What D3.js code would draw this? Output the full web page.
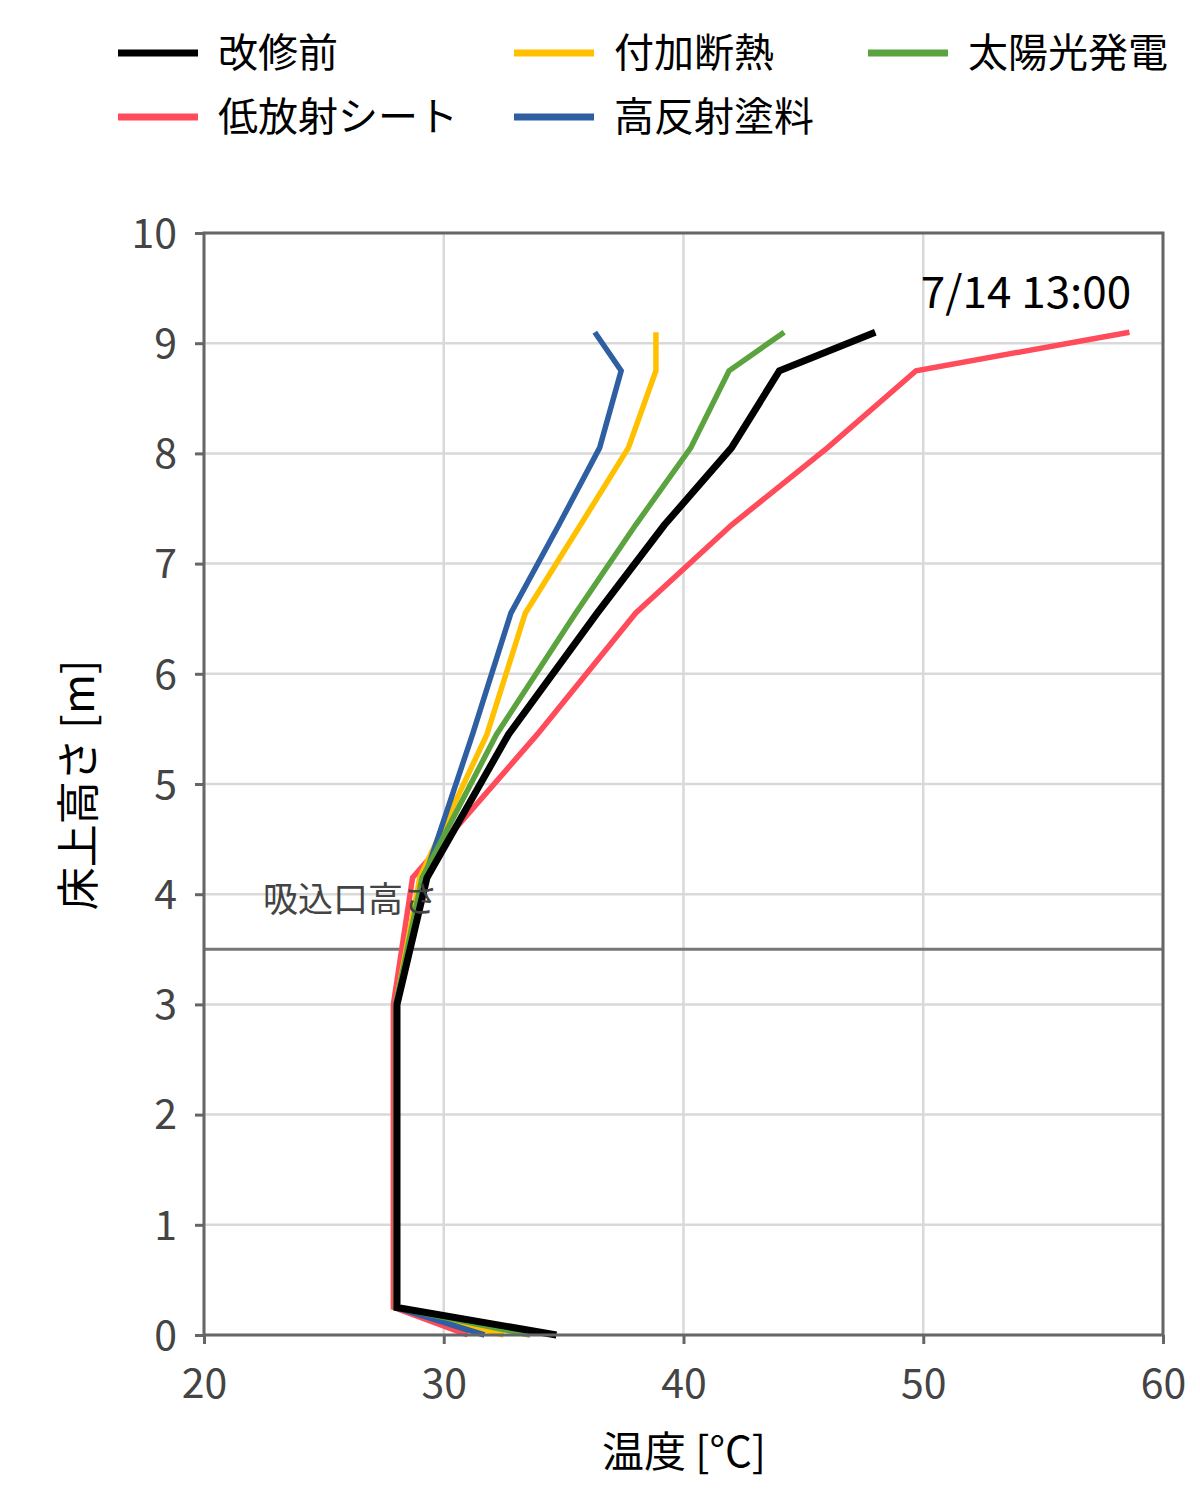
<!DOCTYPE html><html><head><meta charset="utf-8">
<script src="https://cdn.jsdelivr.net/npm/d3@7"></script>
<style>body{margin:0;background:#fff}text{font-family:"Noto Sans CJK JP","Noto Sans",sans-serif}</style></head><body>
<svg id="c" width="1200" height="1500"></svg>
<script>
const heights=[0,0.25,3.0,4.15,5.45,6.55,7.35,8.05,8.75,9.1];
const seriesNames=["改修前","付加断熱","太陽光発電","低放射シート","高反射塗料"];
const seriesColors=["#000000","#ffc000","#5ba33f","#ff4b5a","#2e5fa3"];
const base=[34.7,28.05,28.05,29.3,32.7,36.4,39.2,42.0,44.0,48.0];
const insul=[32.5,28.0,28.0,29.0,31.8,33.4,35.7,37.7,38.85,38.85];
const solar=[33.6,28.0,28.0,29.1,32.2,35.5,38.0,40.3,41.9,44.2];
const lowE=[31.0,27.9,27.9,28.7,33.9,38.0,42.0,46.0,49.7,58.6];
const refl=[31.7,28.0,28.0,29.2,31.2,32.8,34.8,36.5,37.4,36.3];
const xTicks=[20,30,40,50,60], yTicks=[0,1,2,3,4,5,6,7,8,9,10];
const intakeH=3.5;
const svg=d3.select("#c");
const x=d3.scaleLinear().domain([20,60]).range([204,1163]);
const y=d3.scaleLinear().domain([0,10]).range([1335,233]);
const g=svg.append("g");
g.selectAll(".gx").data(xTicks).join("line").attr("x1",d=>x(d)).attr("x2",d=>x(d)).attr("y1",233).attr("y2",1335).attr("stroke","#d9d9d9").attr("stroke-width",2.5);
g.selectAll(".gy").data(yTicks).join("line").attr("y1",d=>y(d)).attr("y2",d=>y(d)).attr("x1",204).attr("x2",1163).attr("stroke","#d9d9d9").attr("stroke-width",2.5);
g.append("line").attr("x1",204).attr("x2",1163).attr("y1",y(intakeH)).attr("y2",y(intakeH)).attr("stroke","#777").attr("stroke-width",3);
const data=[base,insul,solar,lowE,refl];
const line=d3.line().x(d=>x(d[0])).y(d=>y(d[1]));
[3,1,4,2,0].forEach(i=>{
 g.append("path").attr("d",line(data[i].map((v,j)=>[v,heights[j]]))).attr("fill","none").attr("stroke",seriesColors[i]).attr("stroke-width",i==0?7:5.5).attr("stroke-linejoin","miter");
});
g.append("text").attr("x",263).attr("y",912).attr("font-size",35).attr("fill","#444").text("吸込口高さ");
g.append("rect").attr("x",204).attr("y",233).attr("width",959).attr("height",1102).attr("fill","none").attr("stroke","#666").attr("stroke-width",3);
const xa=svg.append("g").attr("transform","translate(0,1335)").call(d3.axisBottom(x).tickValues(xTicks).tickSize(9).tickFormat(d3.format("d")));
const ya=svg.append("g").attr("transform","translate(204,0)").call(d3.axisLeft(y).tickValues(yTicks).tickSize(9).tickFormat(d3.format("d")));
[xa,ya].forEach(a=>{a.select(".domain").remove();a.selectAll("line").attr("stroke","#666").attr("stroke-width",3);a.selectAll("text").attr("font-size",41).attr("fill","#444").style("font-family","'Noto Sans CJK JP'");});
xa.selectAll("text").attr("y",0).attr("dy","0").attr("transform","translate(0,63)");
ya.selectAll("text").attr("dy","0.35em").attr("x",-27);
svg.append("text").attr("x",1026).attr("y",308).attr("text-anchor","middle").attr("font-size",44).text("7/14 13:00");
svg.append("text").attr("x",684).attr("y",1467).attr("text-anchor","middle").attr("font-size",42).text("温度 [°C]");
svg.append("text").attr("transform","translate(94,785) rotate(-90)").attr("text-anchor","middle").attr("font-size",43).text("床上高さ [m]");
const leg=[[118,53],[514,53],[868,53],[118,117],[514,117]];
const legIdx=[0,1,2,3,4];
legIdx.forEach((i,k)=>{const [lx,ly]=leg[k];
 svg.append("line").attr("x1",lx).attr("x2",lx+80).attr("y1",ly).attr("y2",ly).attr("stroke",seriesColors[i]).attr("stroke-width",7);
 svg.append("text").attr("x",lx+100).attr("y",ly+14).attr("font-size",40).text(seriesNames[i]);});
</script></body></html>
